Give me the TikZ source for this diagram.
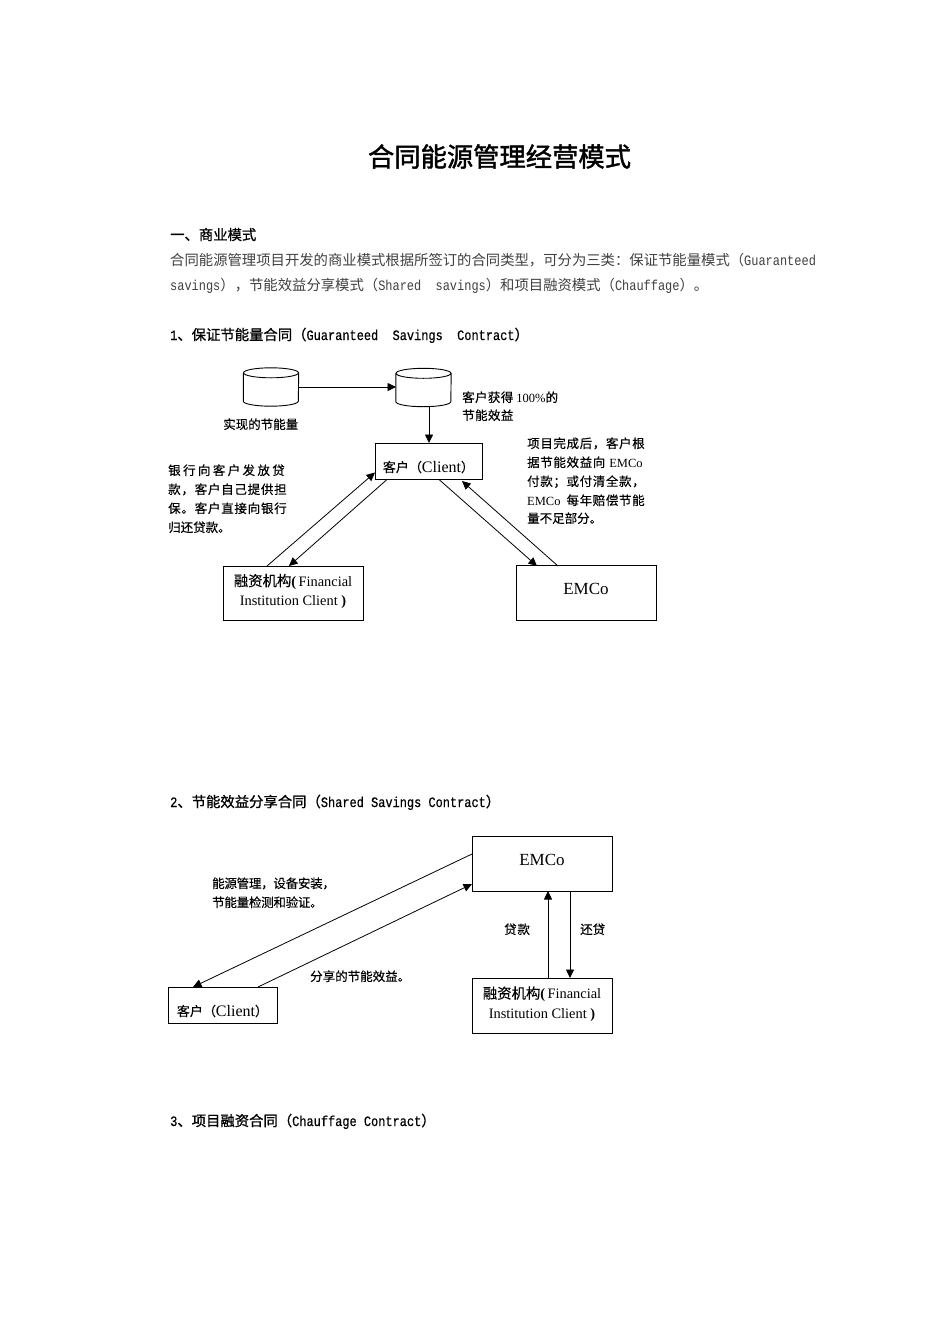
\documentclass[tikz,border=0pt]{standalone}
\usepackage{fontspec}
\usetikzlibrary{arrows.meta}
\setmainfont{Liberation Serif}
\newfontfamily\cjk{Noto Sans CJK SC}
\newfontfamily\cjkd[FakeBold=0.25]{Noto Sans CJK SC}
\newfontfamily\cjkh[FakeBold=1]{Noto Sans CJK SC}
\newfontfamily\cjkt[FakeBold=1.6]{Noto Sans CJK SC}
\newfontfamily\monof[FakeStretch=0.833]{Liberation Mono}
\newfontfamily\monoh[FakeStretch=0.833,FakeBold=0.5]{Liberation Mono}
\newcommand\fsz[1]{\fontsize{#1}{#1}\selectfont}
% body text: full-width CJK, half-width Latin
\newcommand\zh[1]{{\cjk #1}}
\newcommand\zhb[1]{{\cjkh #1}}
% diagram CJK, with letterspacing in percent
\newcommand\dz[2][0]{{\cjkd\addfontfeature{LetterSpace=#1}#2}}
\newcommand\clientlabel{\dz{\fsz{13}客户（}{\fsz{16}Client}\dz{\fsz{13}）}}
\newcommand\finlabel{\begin{tabular}{@{}c@{}}\dz{融资机构}\textbf{(}\,Financial\\[5pt] Institution Client \textbf{)}\end{tabular}}
\definecolor{bodygray}{HTML}{404040}
\tikzset{
  x=1pt,y=-1pt,
  title/.style={anchor=base,inner sep=0pt,font=\fsz{26.3}\cjkt},
  head/.style={anchor=base west,inner sep=0pt,font=\fsz{14.35}\monoh},
  body/.style={anchor=base west,inner sep=0pt,text=bodygray,font=\fsz{14.35}\monof},
  note/.style={anchor=base west,inner sep=0pt,font=\fsz{12.5}},
  boxn/.style={draw,line width=0.9pt,inner sep=0pt,align=center,font=\fsz{14.4}},
  cylb/.style={inner sep=0pt,minimum width=55pt,minimum height=38pt},
  cyldraw/.style={line width=0.9pt},
  conn/.style={line width=0.8pt,-{Triangle[length=8.5pt,width=8pt]}},
}
\newcommand\cylshape[1]{%
  \draw[cyldraw] ([yshift=-5pt]#1.north) ellipse [x radius=27.5pt,y radius=5pt];
  \draw[cyldraw] ([yshift=-5pt]#1.north west) -- ([yshift=5pt]#1.south west)
     arc[start angle=180,end angle=360,x radius=27.5pt,y radius=5pt]
     -- ([yshift=-5pt]#1.north east);
}
\begin{document}
\begin{tikzpicture}
\useasboundingbox (0,0) rectangle (950,1344);
\fill[white] (0,0) rectangle (950,1344);
% page text
\node[title] (t) at (499.5,166.5) {合同能源管理经营模式};
\node[head] (h1) at (170,240) {\zhb{一、商业模式}};
\node[body] (b1) at (170,265) {\zh{合同能源管理项目开发的商业模式根据所签订的合同类型，可分为三类：保证节能量模式（}Guaranteed};
\node[body] (b2) at (170,290) {savings\zh{），节能效益分享模式（}Shared~~savings\zh{）和项目融资模式（}Chauffage\zh{）。}};
\node[head] (s1) at (170,340) {1\zhb{、保证节能量合同（}Guaranteed~~Savings~~Contract\zhb{）}};
\node[head] (s2) at (170,807) {2\zhb{、节能效益分享合同（}Shared Savings Contract\zhb{）}};
\node[head] (s3) at (170,1126) {3\zhb{、项目融资合同（}Chauffage Contract\zhb{）}};
% diagram 1
\node[cylb] (cy1) at (271,387) {};
\node[cylb] (cy2) at (423.5,387.5) {};
\cylshape{cy1}
\cylshape{cy2}
\node[boxn] (cl1) at (428.5,461) [minimum width=107pt,minimum height=36pt] {\raisebox{-11pt}[0pt][0pt]{\clientlabel}};
\node[boxn] (fi1) at (293,593) [minimum width=140pt,minimum height=54pt] {\raisebox{-2.5pt}[0pt][0pt]{\finlabel}};
\node[boxn] (em1) at (586,593) [minimum width=140pt,minimum height=55pt,font=\fsz{17}] {\raisebox{-1.6pt}[0pt][0pt]{EMCo}};
\coordinate (c1r) at (298.5,387);
\coordinate (c2l) at (396,387);
\coordinate (c2b) at (429,406.5);
\coordinate (cl1t) at (429,443);
\coordinate (a1s) at (267,566);
\coordinate (a1e) at (375,472.5);
\coordinate (a2s) at (387,479.5);
\coordinate (a2e) at (289,566);
\coordinate (a3s) at (439,479.5);
\coordinate (a3e) at (537,566);
\coordinate (a4s) at (558,566);
\coordinate (a4e) at (462,481);
\draw[conn] (c1r) -- (c2l);
\draw[conn] (c2b) -- (cl1t);
\draw[conn] (a1s) -- (a1e);
\draw[conn] (a2s) -- (a2e);
\draw[conn] (a3s) -- (a3e);
\draw[conn] (a4s) -- (a4e);
\node[note] (n1) at (223,429) {\dz{实现的节能量}};
\node[note] (n2) at (462,402) {\dz[3]{客户获得} 100\%\dz{的}};
\node[note] (n3) at (462,420) {\dz[3]{节能效益}};
\node[note] (l1) at (168,475) {\dz[19]{银行向客户发放贷}};
\node[note] (l2) at (168,494) {\dz[6]{款，客户自己提供担}};
\node[note] (l3) at (168,513) {\dz[6]{保。客户直接向银行}};
\node[note] (l4) at (168,532) {\dz{归还贷款。}};
\node[note] (r1) at (527,448) {\dz[5]{项目完成后，客户根}};
\node[note] (r2) at (527,467) {\dz[5]{据节能效益向}\hspace{4pt}EMCo};
\node[note] (r3) at (527,486) {\dz[5]{付款；或付清全款，}};
\node[note] (r4) at (527,505) {EMCo\hspace{6pt}\dz[5]{每年赔偿节能}};
\node[note] (r5) at (527,523) {\dz{量不足部分。}};
% diagram 2
\node[boxn] (em2) at (542,863.5) [minimum width=140pt,minimum height=55pt,font=\fsz{17}] {\raisebox{-2pt}[0pt][0pt]{EMCo}};
\node[boxn] (fi2) at (542,1005.5) [minimum width=140pt,minimum height=55pt] {\raisebox{-2.5pt}[0pt][0pt]{\finlabel}};
\node[boxn] (cl2) at (222.5,1005) [minimum width=109pt,minimum height=36pt] {\raisebox{-11pt}[0pt][0pt]{\clientlabel}};
\coordinate (b1s) at (472,854);
\coordinate (b1e) at (193,987);
\coordinate (b2s) at (258,987);
\coordinate (b2e) at (472,884);
\coordinate (b3s) at (548,978);
\coordinate (b3e) at (548,891);
\coordinate (b4s) at (570,891);
\coordinate (b4e) at (570,978);
\draw[conn] (b1s) -- (b1e);
\draw[conn] (b2s) -- (b2e);
\draw[conn] (b3s) -- (b3e);
\draw[conn] (b4s) -- (b4e);
\node[note] (m1) at (212,888) {\dz[-2]{能源管理，设备安装，}};
\node[note] (m2) at (212,907) {\dz[-2]{节能量检测和验证。}};
\node[note] (m3) at (310,981) {\dz{分享的节能效益。}};
\node[note] (m4) at (504,934) {\dz[6]{贷款}};
\node[note] (m5) at (580,934) {\dz{还贷}};
\end{tikzpicture}
\end{document}
